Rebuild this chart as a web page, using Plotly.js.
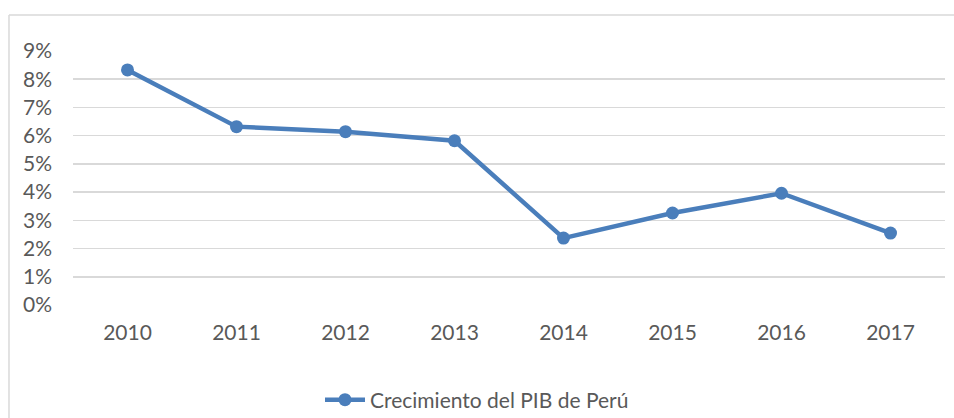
<!DOCTYPE html>
<html>
<head>
<meta charset="utf-8">
<script src="https://cdn.plot.ly/plotly-3.0.1.min.js"></script>
<style>html,body{margin:0;padding:0;background:#fff;}#chart{width:954px;height:418px;}</style>
</head>
<body>
<div id="chart"></div>
<script>
const years = ["2010","2011","2012","2013","2014","2015","2016","2017"];
const growth = [0.0833, 0.0632, 0.0614, 0.0582, 0.0237, 0.0326, 0.0396, 0.0255];
const seriesName = "Crecimiento del PIB de Perú";

const lineColor = "#4a7ebb";
const textColor = "#595959";
const gridColor = "#d9d9d9";
const fontFamily = "Lato, 'Open Sans', sans-serif";

const trace = {
  x: years, y: growth, type: "scatter", mode: "lines+markers", name: seriesName,
  line: {color: lineColor, width: 4.5},
  marker: {color: lineColor, size: 13},
  showlegend: true
};

const layout = {
  width: 954, height: 418,
  margin: {l: 73, r: 9, t: 51, b: 113},
  paper_bgcolor: "#ffffff", plot_bgcolor: "#ffffff",
  font: {family: fontFamily, color: textColor, size: 21},
  xaxis: {type: "category", range: [-0.5, 7.5], showgrid: false, zeroline: false, showline: false, ticks: "",
          tickfont: {size: 21, color: textColor}, ticklabelstandoff: 13},
  yaxis: {range: [0, 0.09], dtick: 0.01, tickformat: ".0%", showgrid: true, gridcolor: gridColor, gridwidth: 1.5,
          zeroline: false, showline: false, ticks: "", tickfont: {size: 21, color: textColor}, ticklabelstandoff: 20},
  showlegend: true,
  legend: {orientation: "h", xref: "container", yref: "container", x: 0.5, xanchor: "center", y: 0.043, yanchor: "middle",
           font: {size: 21, color: textColor}, itemwidth: 40},
  shapes: [
    {type: "line", xref: "paper", yref: "paper", x0: -0.0734, x1: 1.02, y0: 1.1415, y1: 1.1415, line: {color: gridColor, width: 1.5}},
    {type: "line", xref: "paper", yref: "paper", x0: -0.0734, x1: -0.0734, y0: 1.1415, y1: -0.5, line: {color: gridColor, width: 1.5}}
  ]
};

Plotly.newPlot("chart", [trace], layout, {displayModeBar: false, staticPlot: true});
</script>
</body>
</html>
